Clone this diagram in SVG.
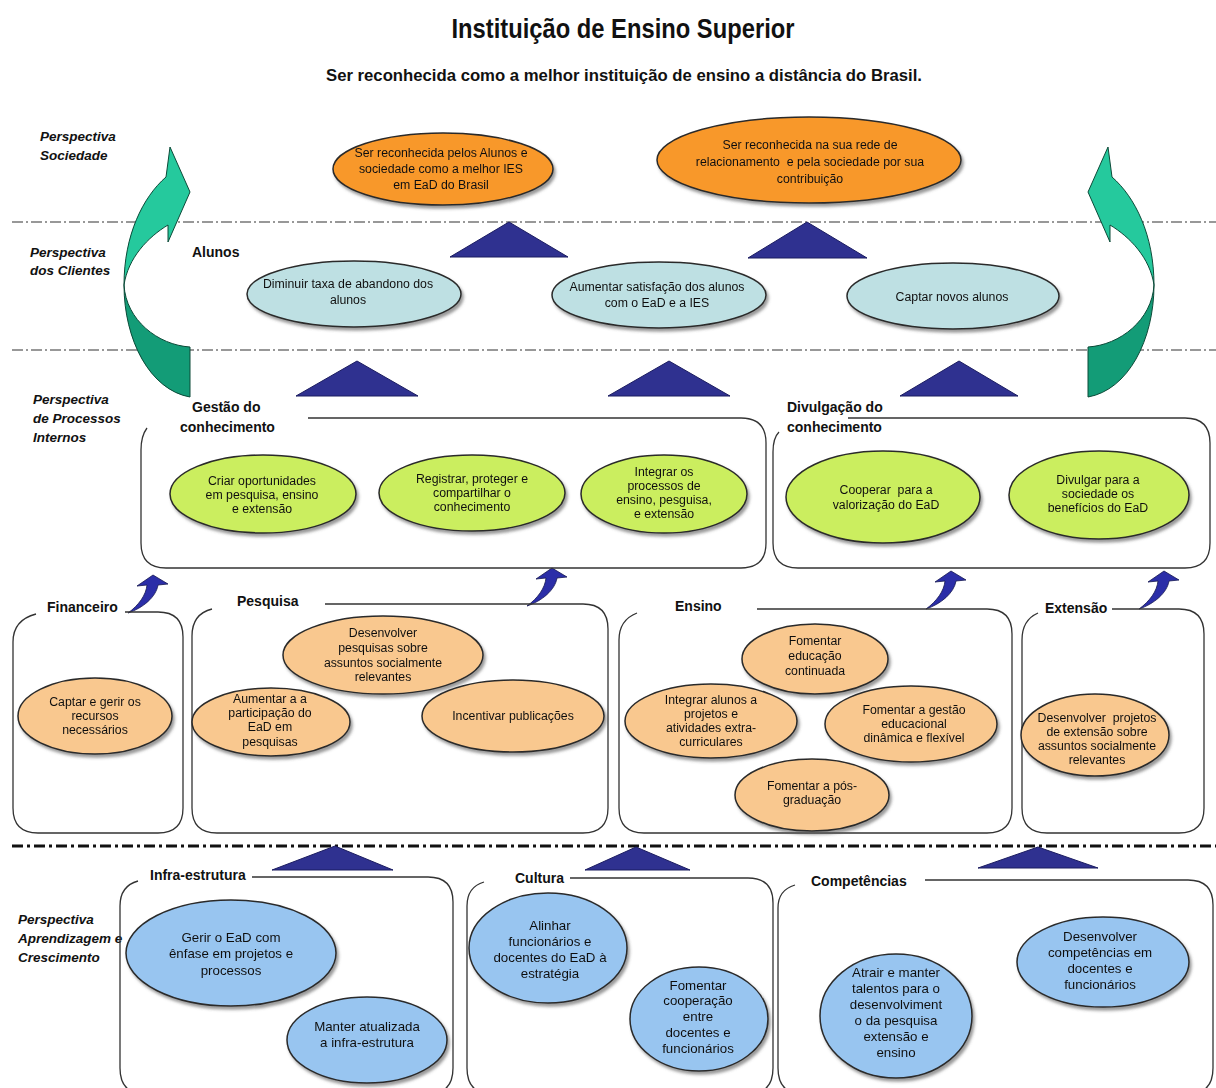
<svg xmlns="http://www.w3.org/2000/svg" xmlns:xlink="http://www.w3.org/1999/xlink" width="1216" height="1088" viewBox="0 0 1216 1088">
<style>
text{font-family:"Liberation Sans",Arial,sans-serif;fill:#111}
.t{font-size:12.3px;text-anchor:middle}
.tb{font-size:13.3px;text-anchor:middle}
.lab{font-size:14px;font-weight:bold}
.per{font-size:13.5px;font-weight:bold;font-style:italic}
.el{stroke:#2a2a2a;stroke-width:1.5}
.or{fill:#F8982C}.cy{fill:#BEE0E3}.gr{fill:#CBEE5E}.pe{fill:#F9C88F}.bl{fill:#98C5F0}
.box{fill:none;stroke:#333;stroke-width:1.3}
.tri{fill:#2F3190;stroke:#1b1c60;stroke-width:1}
.dl{stroke:#333;stroke-width:1.2;stroke-dasharray:11 3 2 3;fill:none}
.dk{stroke:#111;stroke-width:3;stroke-dasharray:11 4 3 4;fill:none}
.ga{fill:#25C99D;stroke:#0C4A38;stroke-width:1}
.gd{fill:#139C77;stroke:#0C4A38;stroke-width:1}
</style>
<defs>
<filter id="sh" x="-10%" y="-10%" width="125%" height="130%">
<feDropShadow dx="2" dy="3" stdDeviation="1.5" flood-color="#555" flood-opacity="0.6"/>
</filter>
<path id="sa" d="M0,0 L15,9 L5,10 C3,22 -10,33 -25,38 C-14,30 -7,20 -6,10 L-16,11 Z" fill="#2B2EA8" stroke="#141650" stroke-width="0.8"/>
<g id="garrow">
<path class="ga" d="M124,285 C124,235 143,197 166,177 L170,147 L190,192 L168,242 L168,225 C148,237 128,258 124,285 Z"/>
<path class="gd" d="M124,285 C126,320 158,345 190,347 L190,397 C150,390 124,340 124,285 Z"/>
</g>
</defs>
<rect width="1216" height="1088" fill="#fff"/>

<g id="titles">
<text x="623" y="38" font-size="27" font-weight="bold" text-anchor="middle" textLength="343" lengthAdjust="spacingAndGlyphs">Instituição de Ensino Superior</text>
<text x="624" y="81" font-size="17" font-weight="bold" text-anchor="middle" textLength="596" lengthAdjust="spacingAndGlyphs">Ser reconhecida como a melhor instituição de ensino a distância do Brasil.</text>
</g>

<g id="perspectives">
<text class="per" x="40" y="141">Perspectiva</text>
<text class="per" x="40" y="160">Sociedade</text>
<text class="per" x="30" y="257">Perspectiva</text>
<text class="per" x="30" y="275">dos Clientes</text>
<text class="per" x="33" y="404">Perspectiva</text>
<text class="per" x="33" y="423">de Processos</text>
<text class="per" x="33" y="442">Internos</text>
<text class="per" x="18" y="924">Perspectiva</text>
<text class="per" x="18" y="943">Aprendizagem e</text>
<text class="per" x="18" y="962">Crescimento</text>
</g>

<g id="separators">
<line class="dl" x1="12" y1="222" x2="1216" y2="222"/>
<line class="dl" x1="12" y1="350" x2="1216" y2="350"/>
<line class="dk" x1="12" y1="846" x2="1216" y2="846"/>
</g>

<g id="connectors">
<use href="#garrow"/>
<use href="#garrow" transform="translate(1278,0) scale(-1,1)"/>
<polygon class="tri" points="509,222 568,257 450,257"/>
<polygon class="tri" points="807,222 867,258 748,258"/>
<polygon class="tri" points="357,361 418,396 296,396"/>
<polygon class="tri" points="669,361 730,396 608,396"/>
<polygon class="tri" points="959,361 1018,396 900,396"/>
<polygon class="tri" points="335,846 393,870 272,870"/>
<polygon class="tri" points="636,847 690,870 585,870"/>
<polygon class="tri" points="1038,847 1098,868 978,868"/>
<use href="#sa" transform="translate(153,575)"/>
<use href="#sa" transform="translate(552,568)"/>
<use href="#sa" transform="translate(951,571)"/>
<use href="#sa" transform="translate(1164,571)"/>
</g>

<g id="boxes">
<path class="box" d="M308,418 H741 Q766,418 766,443 V543 Q766,568 741,568 H166 Q141,568 141,543 V450 Q141,436 147,428"/>
<text class="lab" x="192" y="412">Gestão do</text>
<text class="lab" x="180" y="432">conhecimento</text>
<path class="box" d="M848,418 H1185 Q1210,418 1210,443 V543 Q1210,568 1185,568 H798 Q773,568 773,543 V452 Q773,438 779,432"/>
<text class="lab" x="787" y="412">Divulgação do</text>
<text class="lab" x="787" y="432">conhecimento</text>
<path class="box" d="M125,612 H158 Q183,612 183,637 V808 Q183,833 158,833 H38 Q13,833 13,808 V642 Q13,620 36,614"/>
<text class="lab" x="47" y="612">Financeiro</text>
<path class="box" d="M325,604 H583 Q608,604 608,629 V808 Q608,833 583,833 H217 Q192,833 192,808 V636 Q192,614 212,609"/>
<text class="lab" x="237" y="606">Pesquisa</text>
<path class="box" d="M757,609 H987 Q1012,609 1012,634 V808 Q1012,833 987,833 H644 Q619,833 619,808 V640 Q619,620 637,613"/>
<text class="lab" x="675" y="611">Ensino</text>
<path class="box" d="M1112,609 H1179 Q1204,609 1204,634 V808 Q1204,833 1179,833 H1047 Q1022,833 1022,808 V640 Q1022,620 1038,613"/>
<text class="lab" x="1045" y="613">Extensão</text>
<path class="box" d="M252,877 H428 Q453,877 453,902 V1068 Q453,1094 428,1094 H145 Q120,1094 120,1068 V906 Q120,886 138,881"/>
<text class="lab" x="150" y="880">Infra-estrutura</text>
<path class="box" d="M570,878 H748 Q773,878 773,903 V1068 Q773,1094 748,1094 H492 Q467,1094 467,1068 V906 Q467,887 484,882"/>
<text class="lab" x="515" y="883">Cultura</text>
<path class="box" d="M925,880 H1188 Q1213,880 1213,905 V1068 Q1213,1094 1188,1094 H803 Q778,1094 778,1068 V908 Q778,890 795,885"/>
<text class="lab" x="811" y="886">Competências</text>
<text class="lab" x="192" y="257">Alunos</text>
</g>

<g id="n-soc1" filter="url(#sh)"><ellipse class="el or" cx="443" cy="169" rx="110" ry="36"/>
<text class="t" x="441" y="157">Ser reconhecida pelos Alunos e</text><text class="t" x="441" y="173">sociedade como a melhor IES</text><text class="t" x="441" y="189">em EaD do Brasil</text></g>
<g id="n-soc2" filter="url(#sh)"><ellipse class="el or" cx="809" cy="160" rx="152" ry="43"/>
<text class="t" x="810" y="149">Ser reconhecida na sua rede de</text><text class="t" x="810" y="166">relacionamento &#160;e pela sociedade por sua</text><text class="t" x="810" y="183">contribuição</text></g>

<g id="n-cli1" filter="url(#sh)"><ellipse class="el cy" cx="354" cy="294" rx="107" ry="33"/>
<text class="t" x="348" y="288">Diminuir taxa de abandono dos</text><text class="t" x="348" y="304">alunos</text></g>
<g id="n-cli2" filter="url(#sh)"><ellipse class="el cy" cx="659" cy="295" rx="107" ry="33"/>
<text class="t" x="657" y="291">Aumentar satisfação dos alunos</text><text class="t" x="657" y="307">com o EaD e a IES</text></g>
<g id="n-cli3" filter="url(#sh)"><ellipse class="el cy" cx="953" cy="296" rx="106" ry="33"/>
<text class="t" x="952" y="301">Captar novos alunos</text></g>

<g id="n-g1" filter="url(#sh)"><ellipse class="el gr" cx="263" cy="494" rx="93" ry="39"/>
<text class="t" x="262" y="485">Criar oportunidades</text><text class="t" x="262" y="499">em pesquisa, ensino</text><text class="t" x="262" y="513">e extensão</text></g>
<g id="n-g2" filter="url(#sh)"><ellipse class="el gr" cx="472" cy="493" rx="93" ry="38"/>
<text class="t" x="472" y="483">Registrar, proteger e</text><text class="t" x="472" y="497">compartilhar o</text><text class="t" x="472" y="511">conhecimento</text></g>
<g id="n-g3" filter="url(#sh)"><ellipse class="el gr" cx="664" cy="494" rx="83" ry="39"/>
<text class="t" x="664" y="476">Integrar os</text><text class="t" x="664" y="490">processos de</text><text class="t" x="664" y="504">ensino, pesguisa,</text><text class="t" x="664" y="518">e extensão</text></g>
<g id="n-g4" filter="url(#sh)"><ellipse class="el gr" cx="883" cy="497" rx="97" ry="46"/>
<text class="t" x="886" y="494">Cooperar &#160;para a</text><text class="t" x="886" y="509">valorização do EaD</text></g>
<g id="n-g5" filter="url(#sh)"><ellipse class="el gr" cx="1099" cy="495" rx="90" ry="44"/>
<text class="t" x="1098" y="484">Divulgar para a</text><text class="t" x="1098" y="498">sociedade os</text><text class="t" x="1098" y="512">benefícios do EaD</text></g>

<g id="n-fin" filter="url(#sh)"><ellipse class="el pe" cx="95" cy="716" rx="77" ry="38"/>
<text class="t" x="95" y="706">Captar e gerir os</text><text class="t" x="95" y="720">recursos</text><text class="t" x="95" y="734">necessários</text></g>
<g id="n-p1" filter="url(#sh)"><ellipse class="el pe" cx="383" cy="655" rx="100" ry="39"/>
<text class="t" x="383" y="637">Desenvolver</text><text class="t" x="383" y="652">pesquisas sobre</text><text class="t" x="383" y="667">assuntos socialmente</text><text class="t" x="383" y="681">relevantes</text></g>
<g id="n-p2" filter="url(#sh)"><ellipse class="el pe" cx="271" cy="722" rx="79" ry="34"/>
<text class="t" x="270" y="703">Aumentar a a</text><text class="t" x="270" y="717">participação do</text><text class="t" x="270" y="731">EaD em</text><text class="t" x="270" y="746">pesquisas</text></g>
<g id="n-p3" filter="url(#sh)"><ellipse class="el pe" cx="513" cy="716" rx="91" ry="36"/>
<text class="t" x="513" y="720">Incentivar publicações</text></g>
<g id="n-e1" filter="url(#sh)"><ellipse class="el pe" cx="815" cy="659" rx="73" ry="35"/>
<text class="t" x="815" y="645">Fomentar</text><text class="t" x="815" y="660">educação</text><text class="t" x="815" y="675">continuada</text></g>
<g id="n-e2" filter="url(#sh)"><ellipse class="el pe" cx="711" cy="721" rx="86" ry="37"/>
<text class="t" x="711" y="704">Integrar alunos a</text><text class="t" x="711" y="718">projetos e</text><text class="t" x="711" y="732">atividades extra-</text><text class="t" x="711" y="746">curriculares</text></g>
<g id="n-e3" filter="url(#sh)"><ellipse class="el pe" cx="911" cy="724" rx="86" ry="38"/>
<text class="t" x="914" y="714">Fomentar a gestão</text><text class="t" x="914" y="728">educacional</text><text class="t" x="914" y="742">dinâmica e flexível</text></g>
<g id="n-e4" filter="url(#sh)"><ellipse class="el pe" cx="812" cy="795" rx="77" ry="36"/>
<text class="t" x="812" y="790">Fomentar a pós-</text><text class="t" x="812" y="804">graduação</text></g>
<g id="n-x1" filter="url(#sh)"><ellipse class="el pe" cx="1095" cy="735" rx="74" ry="41"/>
<text class="t" x="1097" y="722">Desenvolver &#160;projetos</text><text class="t" x="1097" y="736">de extensão sobre</text><text class="t" x="1097" y="750">assuntos socialmente</text><text class="t" x="1097" y="764">relevantes</text></g>

<g id="n-i1" filter="url(#sh)"><ellipse class="el bl" cx="231" cy="953" rx="105" ry="53"/>
<text class="tb" x="231" y="942">Gerir o EaD com</text><text class="tb" x="231" y="958">ênfase em projetos e</text><text class="tb" x="231" y="975">processos</text></g>
<g id="n-i2" filter="url(#sh)"><ellipse class="el bl" cx="367" cy="1040" rx="80" ry="43"/>
<text class="tb" x="367" y="1031">Manter atualizada</text><text class="tb" x="367" y="1047">a infra-estrutura</text></g>
<g id="n-c1" filter="url(#sh)"><ellipse class="el bl" cx="548" cy="948" rx="79" ry="55"/>
<text class="tb" x="550" y="930">Alinhar</text><text class="tb" x="550" y="946">funcionários e</text><text class="tb" x="550" y="962">docentes do EaD à</text><text class="tb" x="550" y="978">estratégia</text></g>
<g id="n-c2" filter="url(#sh)"><ellipse class="el bl" cx="699" cy="1019" rx="69" ry="52"/>
<text class="tb" x="698" y="990">Fomentar</text><text class="tb" x="698" y="1005">cooperação</text><text class="tb" x="698" y="1021">entre</text><text class="tb" x="698" y="1037">docentes e</text><text class="tb" x="698" y="1053">funcionários</text></g>
<g id="n-k1" filter="url(#sh)"><ellipse class="el bl" cx="896" cy="1016" rx="76" ry="62"/>
<text class="tb" x="896" y="977">Atrair e manter</text><text class="tb" x="896" y="993">talentos para o</text><text class="tb" x="896" y="1009">desenvolviment</text><text class="tb" x="896" y="1025">o da pesquisa</text><text class="tb" x="896" y="1041">extensão e</text><text class="tb" x="896" y="1057">ensino</text></g>
<g id="n-k2" filter="url(#sh)"><ellipse class="el bl" cx="1103" cy="962" rx="86" ry="45"/>
<text class="tb" x="1100" y="941">Desenvolver</text><text class="tb" x="1100" y="957">competências em</text><text class="tb" x="1100" y="973">docentes e</text><text class="tb" x="1100" y="989">funcionários</text></g>
</svg>
